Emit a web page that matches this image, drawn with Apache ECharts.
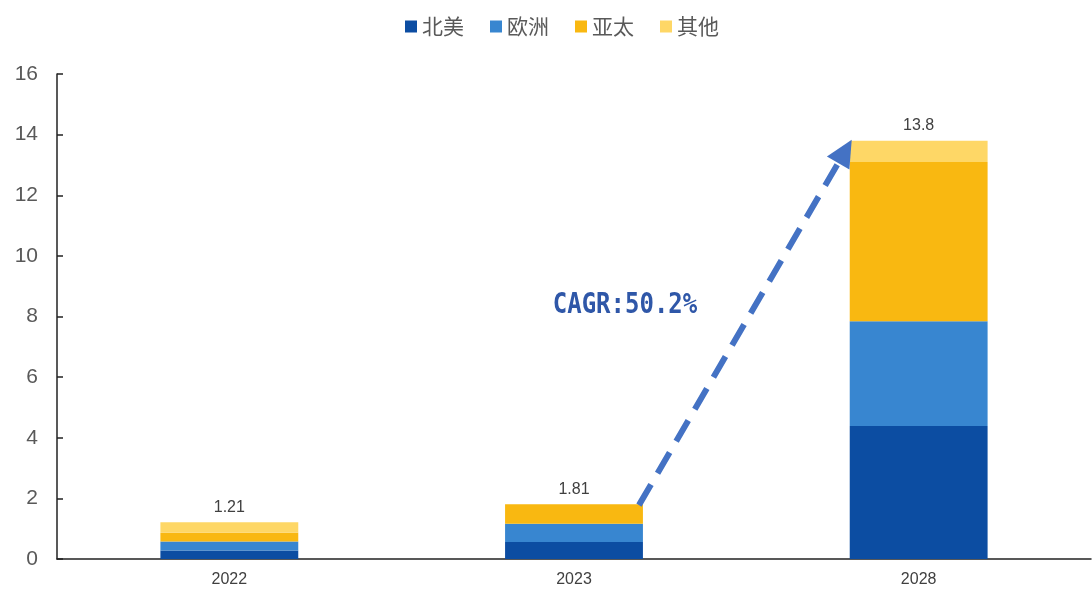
<!DOCTYPE html>
<html>
<head>
<meta charset="utf-8">
<title>市场规模</title>
<script src="https://cdn.jsdelivr.net/npm/echarts@6/dist/echarts.min.js"></script>
<style>
    html, body { margin: 0; padding: 0; background: #fff; }
    #main { width: 1092px; height: 590px; }
</style>
</head>
<body>
<div id="main"></div>
<script>
// 数据
var years = ['2022', '2023', '2028'];
var northAmerica = [0.28, 0.56, 4.39];
var europe = [0.30, 0.60, 3.45];
var asiaPacific = [0.29, 0.65, 5.26];
var others = [0.34, 0, 0.70];
var totals = ['1.21', '1.81', '13.8'];
var cagrText = 'CAGR:50.2%';

var chart = echarts.init(document.getElementById('main'));

function barSeries(name, data, color) {
    return {
        name: name,
        type: 'bar',
        stack: 'total',
        barWidth: '40%',
        itemStyle: { color: color },
        data: data
    };
}

var seriesList = [
    barSeries('北美', northAmerica, '#0c4da2'),
    barSeries('欧洲', europe, '#3886d0'),
    barSeries('亚太', asiaPacific, '#f9b811'),
    barSeries('其他', others, '#fed766')
];
//总量标签放在最上面一层
seriesList[3].label = {
    show: true,
    position: 'top',
    distance: 7,
    color: '#404040',
    fontSize: 16,
    fontFamily: 'Liberation Sans, Arial, sans-serif',
    formatter: function (p) { return totals[p.dataIndex]; }
};

chart.setOption({
    animation: false,
    legend: {
        left: 400,
        top: 11,
        itemWidth: 12,
        itemHeight: 12,
        itemGap: 26,
        icon: 'rect',
        textStyle: {
            color: '#595959',
            fontSize: 21,
            fontFamily: 'Noto Sans CJK SC'
        },
        data: ['北美', '欧洲', '亚太', '其他']
    },
    grid: {
        left: 57,
        right: 1,
        top: 74,
        bottom: 31,
        containLabel: false
    },
    xAxis: {
        type: 'category',
        data: years,
        axisLine: { lineStyle: { color: '#222', width: 1.5 } },
        axisTick: { inside: true, length: 5, lineStyle: { color: '#222', width: 1.5 } },
        axisLabel: {
            color: '#404040',
            fontSize: 16,
            margin: 13,
            fontFamily: 'Liberation Sans, Arial, sans-serif'
        }
    },
    yAxis: {
        type: 'value',
        min: 0,
        max: 16,
        interval: 2,
        splitLine: { show: false },
        axisLine: { show: true, lineStyle: { color: '#222', width: 1.5 } },
        axisTick: { show: true, inside: true, length: 6, lineStyle: { color: '#222', width: 1.5 } },
        axisLabel: {
            color: '#595959',
            fontSize: 21,
            margin: 19,
            fontFamily: 'Liberation Sans, Arial, sans-serif'
        }
    },
    series: seriesList
});

//箭头：用坐标轴换算出柱子顶端位置
function drawArrow() {
    var p23 = chart.convertToPixel({ gridIndex: 0 }, ['2023', northAmerica[1] + europe[1] + asiaPacific[1] + others[1]]);
    var p28 = chart.convertToPixel({ gridIndex: 0 }, ['2028', northAmerica[2] + europe[2] + asiaPacific[2] + others[2]]);
    var bw = (p28[0] - p23[0]) * 0.4;
    var start = [p23[0] + bw / 2 - 4, p23[1] + 1];
    var tip = [p28[0] - bw / 2 + 2, p28[1] - 1];
    var dx = tip[0] - start[0], dy = tip[1] - start[1];
    var len = Math.sqrt(dx * dx + dy * dy);
    var ux = dx / len, uy = dy / len;
    var nx = -uy, ny = ux;
    var headLen = 27, headW = 13;
    var base = [tip[0] - ux * headLen, tip[1] - uy * headLen];
    var lineEnd = [tip[0] - ux * (headLen - 4), tip[1] - uy * (headLen - 4)];

    chart.setOption({
        graphic: [{
            type: 'line',
            shape: { x1: start[0], y1: start[1], x2: lineEnd[0], y2: lineEnd[1] },
            style: { stroke: '#4472c4', lineWidth: 6, lineDash: [24, 13] },
            z: 10
        }, {
            type: 'polygon',
            shape: {
                points: [
                    tip,
                    [base[0] + nx * headW, base[1] + ny * headW],
                    [base[0] - nx * headW, base[1] - ny * headW]
                ]
            },
            style: { fill: '#4472c4' },
            z: 10
        }, {
            type: 'text',
            x: 625,
            y: 306,
            scaleY: 1.2,
            style: {
                text: cagrText,
                fill: '#2f57a8',
                font: 'bold 24px "DejaVu Sans Mono", monospace',
                align: 'center',
                verticalAlign: 'middle'
            },
            z: 10
        }]
    });
}
drawArrow();
</script>
</body>
</html>
